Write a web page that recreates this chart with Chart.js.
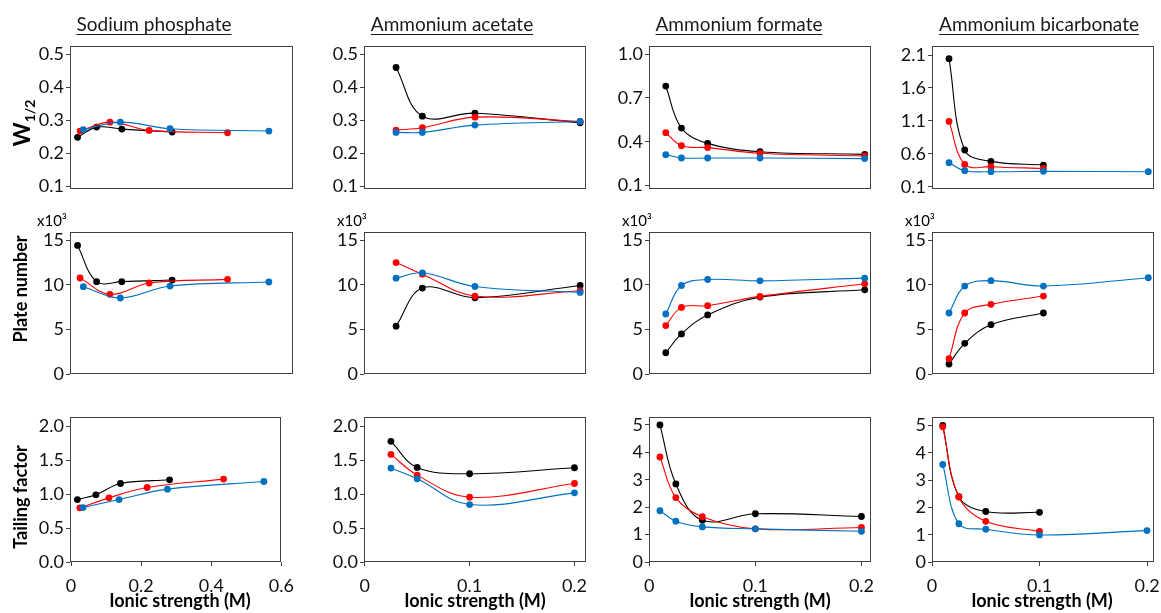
<!DOCTYPE html>
<html>
<head>
<meta charset="utf-8">
<script src="https://cdn.jsdelivr.net/npm/chart.js@4.4.0/dist/chart.umd.min.js"></script>
<style>
body{margin:0;background:#fff;width:1161px;height:613px;position:relative;overflow:hidden;font-family:Lato,sans-serif;color:#000;}
canvas{position:absolute;}
.title{position:absolute;width:300px;text-align:center;font-size:19px;line-height:1;text-decoration:underline;text-underline-offset:3px;color:#1a1a1a;white-space:nowrap;}
.ylab{position:absolute;font-weight:bold;font-size:18px;line-height:1;white-space:nowrap;transform:translate(-50%,-50%) rotate(-90deg);}
.xlab{position:absolute;width:240px;text-align:center;font-weight:bold;font-size:18px;line-height:1;white-space:nowrap;}
.mult{position:absolute;font-size:15px;line-height:1;}
</style>
</head>
<body>
<script>
// salts (columns)
const salts = ['Sodium phosphate', 'Ammonium acetate', 'Ammonium formate', 'Ammonium bicarbonate'];

// ionic strength (M) for each salt / series
const xPhosBlack = [0.018, 0.071, 0.141, 0.281];
const xPhosRed = [0.025, 0.108, 0.217, 0.435];
const xPhosBlue = [0.034, 0.137, 0.275, 0.55];
const xAcetate = [0.025, 0.05, 0.1, 0.2];
const xFormate = [0.01, 0.025, 0.05, 0.1, 0.2];
const xBicarb = [0.01, 0.025, 0.05, 0.1];
const xBicarbBlue = [0.01, 0.025, 0.05, 0.1, 0.2];

// W1/2
const wPhosBlack = [0.249, 0.280, 0.274, 0.265];
const wPhosRed = [0.268, 0.295, 0.270, 0.263];
const wPhosBlue = [0.272, 0.295, 0.275, 0.268];
const wAcetBlack = [0.460, 0.313, 0.322, 0.293];
const wAcetRed = [0.271, 0.278, 0.310, 0.297];
const wAcetBlue = [0.264, 0.264, 0.286, 0.297];
const wFormBlack = [0.781, 0.494, 0.389, 0.332, 0.314];
const wFormRed = [0.462, 0.373, 0.360, 0.321, 0.303];
const wFormBlue = [0.312, 0.289, 0.289, 0.289, 0.285];
const wBicBlack = [2.044, 0.657, 0.485, 0.429];
const wBicRed = [1.092, 0.439, 0.404, 0.378];
const wBicBlue = [0.465, 0.343, 0.328, 0.333, 0.328];

// plate number (x10^3)
const nPhosBlack = [14.40, 10.34, 10.34, 10.52];
const nPhosRed = [10.75, 8.92, 10.19, 10.60];
const nPhosBlue = [9.78, 8.51, 9.85, 10.30];
const nAcetBlack = [5.35, 9.62, 8.54, 9.91];
const nAcetRed = [12.48, 11.18, 8.73, 9.32];
const nAcetBlue = [10.73, 11.33, 9.80, 9.13];
const nFormBlack = [2.38, 4.49, 6.61, 8.61, 9.43];
const nFormRed = [5.42, 7.46, 7.65, 8.69, 10.10];
const nFormBlue = [6.72, 9.91, 10.58, 10.43, 10.73];
const nBicBlack = [1.12, 3.43, 5.52, 6.83];
const nBicRed = [1.72, 6.83, 7.80, 8.73];
const nBicBlue = [6.83, 9.85, 10.45, 9.85, 10.78];

// tailing factor
const tPhosBlack = [0.923, 0.993, 1.160, 1.215];
const tPhosRed = [0.80, 0.948, 1.101, 1.225];
const tPhosBlue = [0.805, 0.923, 1.077, 1.19];
const tAcetBlack = [1.783, 1.398, 1.304, 1.393];
const tAcetRed = [1.590, 1.284, 0.958, 1.160];
const tAcetBlue = [1.388, 1.230, 0.849, 1.022];
const tFormBlack = [5.0, 2.85, 1.52, 1.76, 1.66];
const tFormRed = [3.83, 2.35, 1.65, 1.21, 1.26];
const tFormBlue = [1.87, 1.49, 1.28, 1.21, 1.12];
const tBicBlack = [5.0, 2.39, 1.85, 1.82];
const tBicRed = [4.95, 2.38, 1.49, 1.12];
const tBicBlue = [3.57, 1.40, 1.20, 0.99, 1.15];

// tick labels
const ticksW = [0.1, 0.2, 0.3, 0.4, 0.5];
const ticksWForm = [0.1, 0.4, 0.7, 1.0];
const ticksWBic = [0.1, 0.6, 1.1, 1.6, 2.1];
const ticksPlate = [0, 5, 10, 15];
const ticksTail = [0, 0.5, 1.0, 1.5, 2.0];
const ticksTail5 = [0, 1, 2, 3, 4, 5];
const ticksXPhos = [0, 0.2, 0.4, 0.6];
const ticksXAmm = [0, 0.1, 0.2];

const BLACK = '#000000', RED = '#ff0000', BLUE = '#0070c0';

Chart.defaults.font.family = 'Lato';
Chart.defaults.font.size = 18;
Chart.defaults.color = '#111';

// box geometry per column / row
const colL = [70, 364, 649, 932];
const colR = [293, 586, 871, 1154];
const rowT = [46, 232, 417];
const rowB = [189, 374, 562];
const YW = 48, PT = 14, PR = 16, PB = 16, XH = 34;

const framePlugin = {
  id: 'frame',
  beforeDatasetsDraw(chart) {
    const a = chart.chartArea, c = chart.ctx;
    c.save();
    c.strokeStyle = '#404040';
    c.lineWidth = 1;
    c.strokeRect(Math.round(a.left) + 0.5, Math.round(a.top) + 0.5,
      Math.round(a.right - a.left) - 1, Math.round(a.bottom - a.top) - 1);
    c.restore();
  }
};

function pts(xs, ys) { return xs.map((x, i) => ({x: x, y: ys[i]})); }

function ds(xs, ys, color) {
  return {
    data: pts(xs, ys), borderColor: color, backgroundColor: color,
    borderWidth: 1.1, pointRadius: 3.4, pointHoverRadius: 3.4, pointBorderWidth: 0,
    tension: 0.38, fill: false
  };
}

function panel(row, col, series, yOpt, xOpt) {
  const L = colL[col], R = (row === 2 && col === 0) ? 287 : colR[col];
  const T = rowT[row], B = rowB[row];
  const showX = row === 2;
  const cv = document.createElement('canvas');
  const w = (R - L) + YW + PR;
  const h = (B - T) + PT + (showX ? XH : PB);
  cv.width = w; cv.height = h;
  cv.style.left = (L - YW) + 'px';
  cv.style.top = (T - PT) + 'px';
  document.body.appendChild(cv);
  new Chart(cv, {
    type: 'line',
    data: {datasets: series},
    options: {
      responsive: false, animation: false,
      layout: {padding: {left: 0, top: PT, right: PR, bottom: showX ? 0 : PB}},
      plugins: {legend: {display: false}, tooltip: {enabled: false}},
      scales: {
        x: {
          type: 'linear', display: showX, min: xOpt.min, max: xOpt.max,
          afterBuildTicks: s => { s.ticks = xOpt.ticks.map(v => ({value: v})); },
          afterFit: s => { s.height = showX ? XH : 0; },
          ticks: {padding: 9, color: '#111', callback: v => String(v), maxRotation: 0, autoSkip: false},
          grid: {drawOnChartArea: false, drawTicks: true, tickLength: 4, color: '#404040'},
          border: {display: false}
        },
        y: {
          min: yOpt.min, max: yOpt.max,
          afterBuildTicks: s => { s.ticks = yOpt.ticks.map(v => ({value: v})); },
          afterFit: s => { s.width = YW; },
          ticks: {padding: 2, color: '#111', callback: v => v.toFixed(yOpt.dec), autoSkip: false},
          grid: {drawOnChartArea: false, drawTicks: true, tickLength: 4, color: '#404040'},
          border: {display: false}
        }
      }
    },
    plugins: [framePlugin]
  });
}

// x ranges
const xPhosTop = {min: -0.003, max: 0.617, ticks: ticksXPhos};
const xPhosBot = {min: -0.003, max: 0.6, ticks: ticksXPhos};
const xAcetTop = {min: -0.0055, max: 0.2056, ticks: ticksXAmm};
const xFormTop = {min: -0.006, max: 0.206, ticks: ticksXAmm};
const xBicTop = {min: -0.0062, max: 0.2054, ticks: ticksXAmm};
const xAcetBot = {min: -0.0007, max: 0.211, ticks: ticksXAmm};
const xFormBot = {min: -0.0003, max: 0.209, ticks: ticksXAmm};
const xBicBot = {min: 0, max: 0.2065, ticks: ticksXAmm};

// row 1: W1/2
panel(0, 0, [ds(xPhosBlue, wPhosBlue, BLUE), ds(xPhosRed, wPhosRed, RED), ds(xPhosBlack, wPhosBlack, BLACK)],
  {min: 0.093, max: 0.525, ticks: ticksW, dec: 1}, xPhosTop);
panel(0, 1, [ds(xAcetate, wAcetBlue, BLUE), ds(xAcetate, wAcetRed, RED), ds(xAcetate, wAcetBlack, BLACK)],
  {min: 0.093, max: 0.525, ticks: ticksW, dec: 1}, xAcetTop);
panel(0, 2, [ds(xFormate, wFormBlue, BLUE), ds(xFormate, wFormRed, RED), ds(xFormate, wFormBlack, BLACK)],
  {min: 0.077, max: 1.055, ticks: ticksWForm, dec: 1}, xFormTop);
panel(0, 3, [ds(xBicarbBlue, wBicBlue, BLUE), ds(xBicarb, wBicRed, RED), ds(xBicarb, wBicBlack, BLACK)],
  {min: 0.065, max: 2.237, ticks: ticksWBic, dec: 1}, xBicTop);

// row 2: plate number
const yPlate = {min: 0, max: 15.9, ticks: ticksPlate, dec: 0};
panel(1, 0, [ds(xPhosBlue, nPhosBlue, BLUE), ds(xPhosRed, nPhosRed, RED), ds(xPhosBlack, nPhosBlack, BLACK)], yPlate, xPhosTop);
panel(1, 1, [ds(xAcetate, nAcetBlue, BLUE), ds(xAcetate, nAcetRed, RED), ds(xAcetate, nAcetBlack, BLACK)], yPlate, xAcetTop);
panel(1, 2, [ds(xFormate, nFormBlue, BLUE), ds(xFormate, nFormRed, RED), ds(xFormate, nFormBlack, BLACK)], yPlate, xFormTop);
panel(1, 3, [ds(xBicarbBlue, nBicBlue, BLUE), ds(xBicarb, nBicRed, RED), ds(xBicarb, nBicBlack, BLACK)], yPlate, xBicTop);

// row 3: tailing factor
panel(2, 0, [ds(xPhosBlue, tPhosBlue, BLUE), ds(xPhosRed, tPhosRed, RED), ds(xPhosBlack, tPhosBlack, BLACK)],
  {min: 0, max: 2.143, ticks: ticksTail, dec: 1}, xPhosBot);
panel(2, 1, [ds(xAcetate, tAcetBlue, BLUE), ds(xAcetate, tAcetRed, RED), ds(xAcetate, tAcetBlack, BLACK)],
  {min: 0, max: 2.143, ticks: ticksTail, dec: 1}, xAcetBot);
panel(2, 2, [ds(xFormate, tFormBlue, BLUE), ds(xFormate, tFormRed, RED), ds(xFormate, tFormBlack, BLACK)],
  {min: 0, max: 5.29, ticks: ticksTail5, dec: 0}, xFormBot);
panel(2, 3, [ds(xBicarbBlue, tBicBlue, BLUE), ds(xBicarb, tBicRed, RED), ds(xBicarb, tBicBlack, BLACK)],
  {min: 0, max: 5.31, ticks: ticksTail5, dec: 0}, xBicBot);

// text around the panels
function label(cls, html, left, top) {
  const d = document.createElement('div');
  d.className = cls;
  d.innerHTML = html;
  d.style.left = left + 'px';
  d.style.top = top + 'px';
  document.body.appendChild(d);
}
const titleX = [154, 452, 739, 1039];
salts.forEach((s, i) => label('title', s, titleX[i] - 150, 14));
const xlabX = [180, 475, 760, 1042];
xlabX.forEach(x => label('xlab', 'Ionic strength (M)', x - 120, 591));
[37, 337, 622, 905].forEach(x => label('mult', 'x10³', x, 213));
label('ylab', 'W<span style="font-size:14px;position:relative;top:5px">1/2</span>', 21, 123);
label('ylab', 'Plate number', 20, 289);
label('ylab', 'Tailing factor', 20, 497);
document.querySelectorAll('.ylab')[0].style.fontSize = '23px';
</script>
</body>
</html>
